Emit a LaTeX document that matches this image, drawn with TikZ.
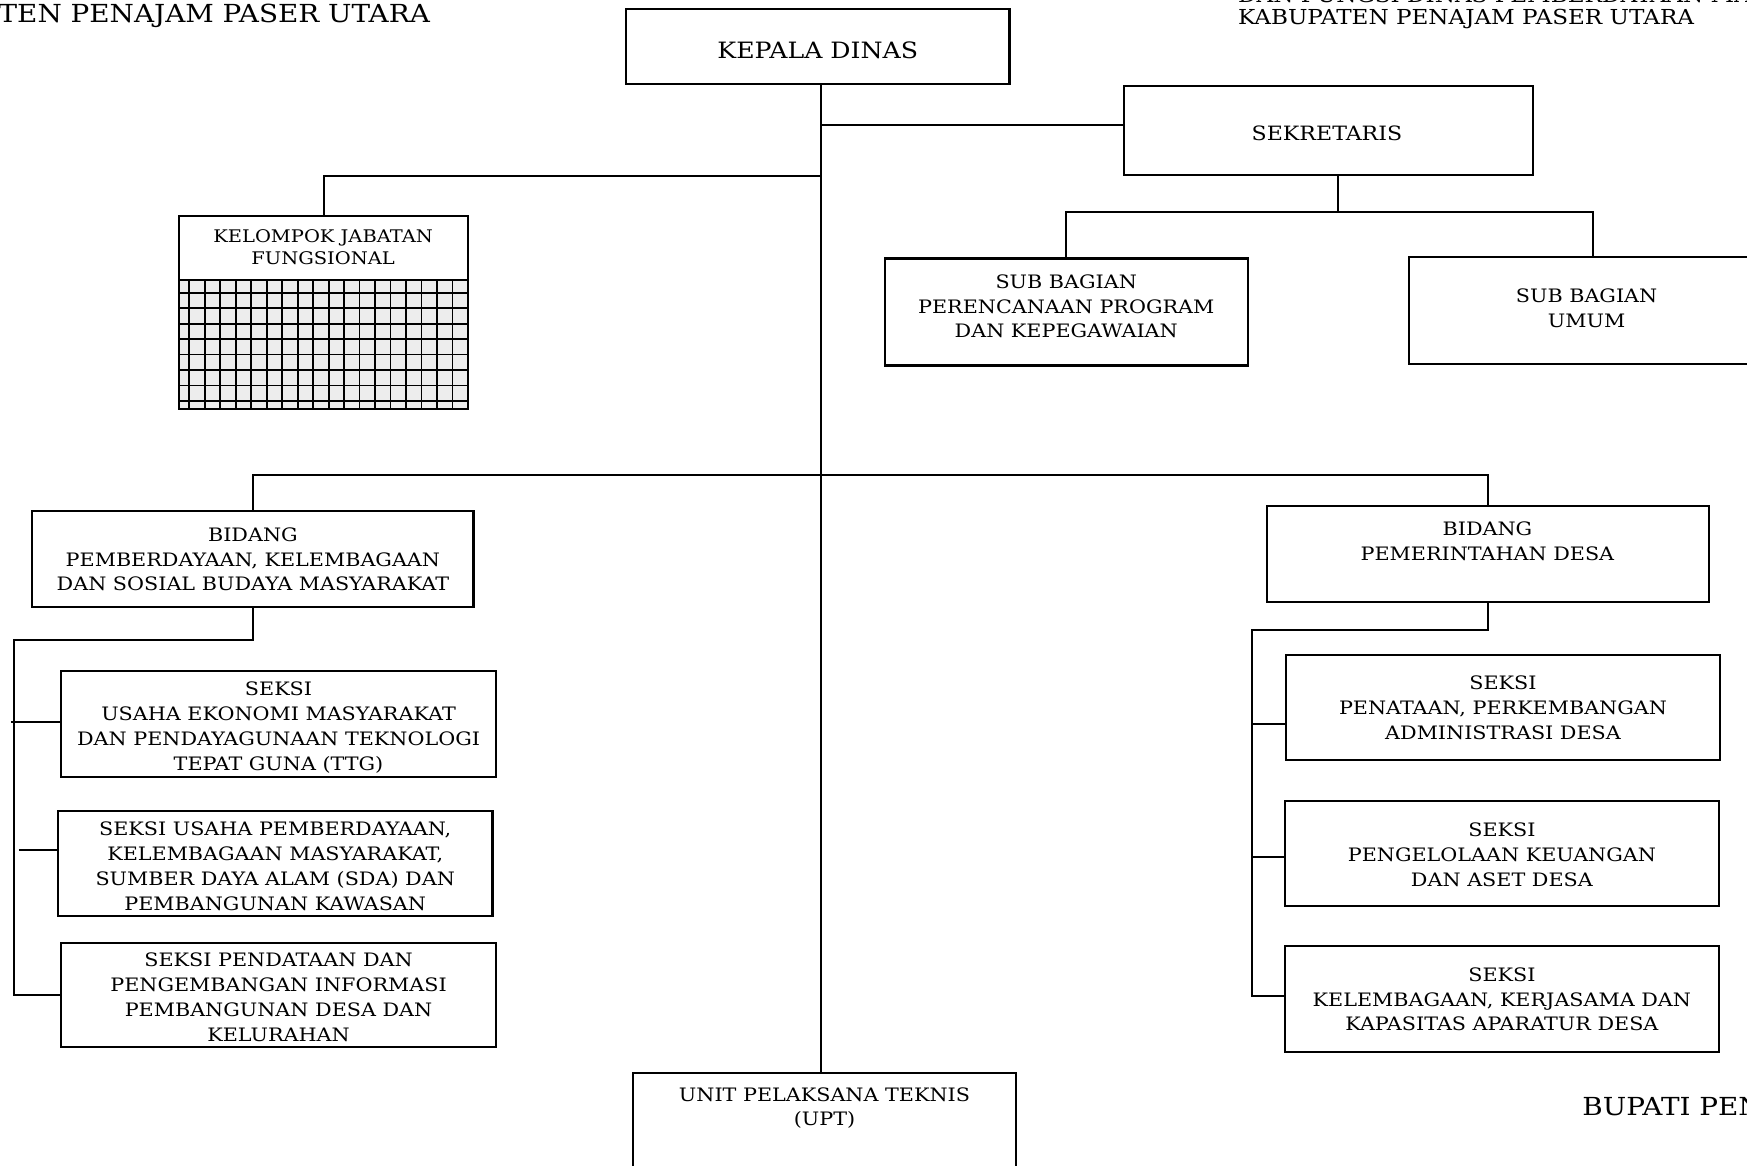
\documentclass[tikz,border=0pt]{standalone}
\usepackage{fontspec}
\setmainfont{DejaVu Serif}[FakeStretch=1.12]
\newcommand\bxfont{\fontsize{16.6}{22.3}\selectfont}
\newcommand\sekfont{\fontsize{17.7}{22.3}\selectfont}
\newcommand\kjfont{\fontsize{15.6}{20}\selectfont}
\newcommand\kdfont{\fontsize{20.2}{24}\selectfont}
\newcommand\hdfont{\fontsize{22.3}{28}\selectfont}
\newcommand\trfont{\fontsize{18.5}{24}\selectfont}
\newcommand\mkbox[5]{\node[boxst, minimum width={(#4-#2)*1pt}, minimum height={(#5-#3)*1pt}] (#1) at ({(#2+#4)/2},{(#3+#5)/2}) {};}
\begin{document}
\begin{tikzpicture}[x=1pt,y=-1pt,
  boxst/.style={draw, line width=1.9pt, rectangle, inner sep=0pt, outer sep=0pt},
  txt/.style={align=center, inner sep=0pt, font=\bxfont},
  con/.style={line width=1.8pt}]
\useasboundingbox (0,0) rectangle (1568,1046);
\clip (0,0) rectangle (1568,1046);
% header texts
\node[anchor=base east, inner sep=0pt, font=\hdfont] (tl) at (386,20) {TEN PENAJAM PASER UTARA};
\node[anchor=base west, inner sep=0pt, font=\trfont] (tr0) at (1111,2.5) {DAN FUNGSI DINAS PEMBERDAYAAN MASYARAKAT DAN DESA};
\node[anchor=base west, inner sep=0pt, font=\trfont] (tr) at (1111,22) {KABUPATEN PENAJAM PASER UTARA};
\node[anchor=base west, inner sep=0pt, font=\hdfont] (bup) at (1420,1001) {BUPATI PENAJAM PASER UTARA};
% boxes
\mkbox{kd}{562}{8}{906}{75}
\mkbox{sek}{1009}{77}{1376}{157}
\mkbox{sbp}{794}{232}{1120}{328}
\mkbox{sbu}{1265}{231}{1583}{327}
\mkbox{bpk}{29}{459}{425}{545}
\mkbox{bpd}{1137}{454}{1534}{540}
\mkbox{la}{55}{602}{445}{697}
\mkbox{lb}{52}{728}{442}{822}
\mkbox{lc}{55}{846}{445}{940}
\mkbox{ra}{1154}{588}{1544}{682}
\mkbox{rb}{1153}{719}{1543}{813}
\mkbox{rc}{1153}{849}{1543}{944}
\mkbox{upt}{568}{963}{912}{1080}
% KJF box with grid
\fill[black!7] (161,251) rectangle (420,367);
\foreach \i in {0,...,17} \draw[line width=1.5pt] ({169.9+13.9*\i},251) -- ({169.9+13.9*\i},367);
\foreach \i in {0,...,7} \draw[line width=1.5pt] (161,{262.7+13.9*\i}) -- (420,{262.7+13.9*\i});
\draw[line width=1.9pt] (161,251) -- (420,251);
\mkbox{kjf}{161}{194}{420}{367}
% texts
\node[txt, font=\kdfont] (kdt) at (734,45) {KEPALA DINAS};
\node[txt, font=\sekfont] (sekt) at (1191,120) {SEKRETARIS};
\node[txt, font=\kjfont] (kjft) at (290,222) {KELOMPOK JABATAN\\FUNGSIONAL};
\node[txt] (sbpt) at (957,275) {SUB BAGIAN\\PERENCANAAN PROGRAM\\DAN KEPEGAWAIAN};
\node[txt] (sbut) at (1424,277) {SUB BAGIAN\\UMUM};
\node[txt] (bpkt) at (227,502) {BIDANG\\PEMBERDAYAAN, KELEMBAGAAN\\DAN SOSIAL BUDAYA MASYARAKAT};
\node[txt] (bpdt) at (1335,486) {BIDANG\\PEMERINTAHAN DESA};
\begin{scope}
\clip (55,602) rectangle (445,694);
\node[txt] (lat) at (250,653) {SEKSI\\USAHA EKONOMI MASYARAKAT\\DAN PENDAYAGUNAAN TEKNOLOGI\\TEPAT GUNA (TTG)};
\end{scope}
\node[txt] (lbt) at (247,777.5) {SEKSI USAHA PEMBERDAYAAN,\\KELEMBAGAAN MASYARAKAT,\\SUMBER DAYA ALAM (SDA) DAN\\PEMBANGUNAN KAWASAN};
\node[txt] (lct) at (250,895) {SEKSI PENDATAAN DAN\\PENGEMBANGAN INFORMASI\\PEMBANGUNAN DESA DAN\\KELURAHAN};
\node[txt] (rat) at (1349,635.5) {SEKSI\\PENATAAN, PERKEMBANGAN\\ADMINISTRASI DESA};
\node[txt] (rbt) at (1348,767) {SEKSI\\PENGELOLAAN KEUANGAN\\DAN ASET DESA};
\node[txt] (rct) at (1348,897) {SEKSI\\KELEMBAGAAN, KERJASAMA DAN\\KAPASITAS APARATUR DESA};
\node[txt] (uptt) at (740,994.5) {UNIT PELAKSANA TEKNIS\\(UPT)};
% connectors
\coordinate (tx) at (737,0);
\draw[con] (kd.south -| tx) -- (upt.north -| tx);
\coordinate (s1) at (737,112);
\draw[con] (s1) -- (s1 -| sek.west);
\coordinate (k1) at (737,158);
\draw[con] (k1) -| (kjf.north);
\coordinate (s2) at (1201,190);
\coordinate (s3) at (1430,190);
\draw[con] (sek.south -| s2) -- (s2);
\draw[con] (sbp.north) |- (s3) -- (s3 |- sbu.north);
\coordinate (b1) at (737,426);
\draw[con] (bpk.north) |- (b1) -| (bpd.north);
\coordinate (lq) at (13,574);
\draw[con] (bpk.south) |- (lq) -- (lq |- lc.west) -- (lc.west);
\coordinate (t1) at (10,648);
\draw[con] (t1) -- (t1 -| la.west);
\coordinate (t2) at (17,763);
\draw[con] (t2) -- (t2 -| lb.west);
\coordinate (rq) at (1124,565);
\coordinate (u1) at (1124,650);
\coordinate (u2) at (1124,769);
\coordinate (u3) at (1124,894);
\draw[con] (bpd.south) |- (rq) -- (u3) -- (u3 -| rc.west);
\draw[con] (u1) -- (u1 -| ra.west);
\draw[con] (u2) -- (u2 -| rb.west);
\end{tikzpicture}
\end{document}
